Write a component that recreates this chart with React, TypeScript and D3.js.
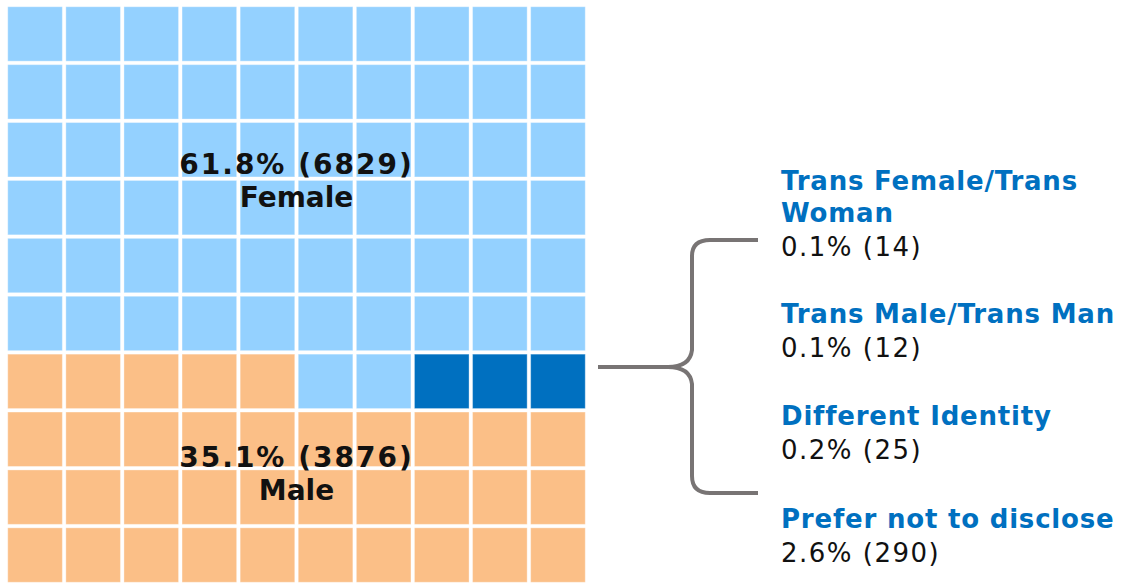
import * as d3 from "d3";
import { useEffect, useRef } from "react";

// waffle: 100 cells, 10 x 10
const categories = ["Male", "Female", "Other"];
const cellCounts = [35, 62, 3];
const colors = ["#FBBF87", "#94D1FF", "#0070C0"];

const mainLabels = [
  { pct: "61.8% (6829)", name: "Female" },
  { pct: "35.1% (3876)", name: "Male" },
];

const otherTitles = [
  ["Trans Female/Trans", "Woman"],
  ["Trans Male/Trans Man"],
  ["Different Identity"],
  ["Prefer not to disclose"],
];
const otherValues = ["0.1% (14)", "0.1% (12)", "0.2% (25)", "2.6% (290)"];

const W = 1141;
const H = 584;

export default function App() {
  const ref = useRef<SVGSVGElement | null>(null);

  useEffect(() => {
    const svg = d3.select(ref.current);
    svg.selectAll("*").remove();

    const cols = d3.range(10);
    const x = d3.scaleBand<number>().domain(cols).range([6, 587]).paddingInner(0.06).paddingOuter(0.03);
    const y = d3.scaleBand<number>().domain(cols).range([5, 584]).paddingInner(0.06).paddingOuter(0.03);

    // fill from bottom-left: male first, others at the end of the shared row, female the rest
    const male = cellCounts[0];
    const other = cellCounts[2];
    const rowEnd = Math.ceil(male / 10) * 10;
    const cells = d3.range(100).map((i) => {
      const row = 9 - Math.floor(i / 10);
      const col = i % 10;
      let cat = 1;
      if (i < male) cat = 0;
      else if (i >= rowEnd - other && i < rowEnd) cat = 2;
      return { row, col, cat, name: categories[cat] };
    });

    svg
      .append("g")
      .selectAll("rect")
      .data(cells)
      .join("rect")
      .attr("x", (d) => x(d.col)!)
      .attr("y", (d) => y(d.row)!)
      .attr("width", x.bandwidth())
      .attr("height", y.bandwidth())
      .attr("fill", (d) => colors[d.cat])
      .attr("stroke", "#ffffff")
      .attr("stroke-opacity", 0.35)
      .attr("stroke-width", 1);

    const cx = (x.range()[0] + x.range()[1]) / 2;
    const labelY = [174, 467];
    mainLabels.forEach((l, i) => {
      const t = svg
        .append("text")
        .attr("text-anchor", "middle")
        .attr("font-family", "DejaVu Sans, Verdana, sans-serif")
        .attr("font-weight", "bold")
        .attr("font-size", 28)
        .attr("fill", "#111");
      t.append("tspan").attr("x", cx).attr("y", labelY[i]).attr("letter-spacing", 2).text(l.pct);
      t.append("tspan").attr("x", cx).attr("y", labelY[i] + 33).text(l.name);
    });

    // bracket
    svg
      .append("path")
      .attr(
        "d",
        "M598,367 L668,367 Q690,367 692,350 L692,256 Q692,240 710,240 L758,240 " +
          "M668,367 Q690,367 692,384 L692,476 Q692,493 710,493 L758,493"
      )
      .attr("fill", "none")
      .attr("stroke", "#787474")
      .attr("stroke-width", 4);

    const lx = 781;
    const titleTop = [190, 323, 425, 528];
    otherTitles.forEach((lines, i) => {
      const g = svg.append("g").attr("font-family", "DejaVu Sans, Verdana, sans-serif");
      lines.forEach((s, j) => {
        g.append("text")
          .attr("x", lx)
          .attr("y", titleTop[i] + j * 32)
          .attr("font-weight", "bold")
          .attr("font-size", 26)
          .attr("letter-spacing", 0.8)
          .attr("fill", "#0070C0")
          .text(s);
      });
      g.append("text")
        .attr("x", lx)
        .attr("y", titleTop[i] + lines.length * 32 + 2)
        .attr("font-size", 26)
        .attr("letter-spacing", 1.5)
        .attr("fill", "#111")
        .text(otherValues[i]);
    });
  }, []);

  return (
    <svg
      ref={ref}
      width={W}
      height={H}
      style={{ position: "absolute", left: 0, top: 0, background: "#fff" }}
    ></svg>
  );
}
